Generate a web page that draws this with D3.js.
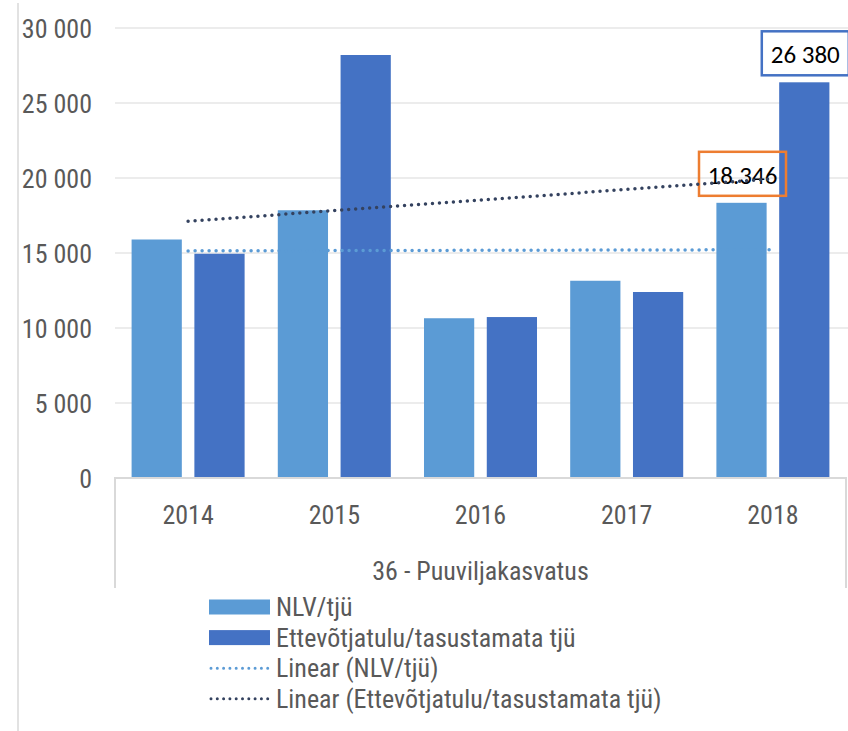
<!DOCTYPE html>
<html>
<head>
<meta charset="utf-8">
<script src="https://cdn.jsdelivr.net/npm/d3@7"></script>
<style>
  html, body { margin: 0; padding: 0; background: #fff; }
  svg { display: block; }
</style>
</head>
<body>
<div id="chart"></div>
<script>
const years = ["2014", "2015", "2016", "2017", "2018"];
const nlvValues = [15900, 17850, 10650, 13150, 18346];
const incomeValues = [14950, 28200, 10730, 12400, 26380];
const yTicks = [0, 5000, 10000, 15000, 20000, 25000, 30000];
const groupName = "36 - Puuviljakasvatus";
const seriesNames = ["NLV/tjü", "Ettevõtjatulu/tasustamata tjü",
    "Linear (NLV/tjü)", "Linear (Ettevõtjatulu/tasustamata tjü)"];
// highlighted point labels: [series index, year index, text]
const callouts = [[0, 4, "18.346"], [1, 4, "26 380"]];

const W = 848, H = 731;
const plot = {left: 115, right: 846, top: 28, bottom: 478};
const colors = ["#5B9BD5", "#4472C4"];
const trendColors = ["#5B9BD5", "#34425F"];
const boxColors = ["#ED7D31", "#4472C4"];
const axisFont = "'Liberation Sans Narrow', 'Roboto Condensed', 'Arial Narrow', sans-serif";
const textGray = "#595959";

const svg = d3.select("#chart").append("svg")
    .attr("width", W)
    .attr("height", H);

const y = d3.scaleLinear()
    .domain([0, 30000])
    .range([plot.bottom, plot.top]);

const x = d3.scaleBand()
    .domain(years)
    .range([plot.left, plot.right])
    .paddingInner(0.227)
    .paddingOuter(0.1135);

const xSub = d3.scaleBand()
    .domain([0, 1])
    .range([0, x.bandwidth()])
    .paddingInner(0.2);

// thin frame line at far left
svg.append("line")
    .attr("x1", 18).attr("x2", 18)
    .attr("y1", 3).attr("y2", H)
    .attr("stroke", "#d9d9d9")
    .attr("stroke-width", 1.5);

// gridlines
svg.append("g")
    .selectAll("line")
    .data(yTicks.filter(d => d > 0))
    .join("line")
    .attr("x1", plot.left).attr("x2", W)
    .attr("y1", d => y(d)).attr("y2", d => y(d))
    .attr("stroke", "#ececec")
    .attr("stroke-width", 2);

// y axis labels
const yAxis = d3.axisLeft(y)
    .tickValues(yTicks)
    .tickSize(0)
    .tickPadding(0)
    .tickFormat(d => d3.format(",")(d).replace(/,/g, " "));

const yg = svg.append("g")
    .attr("transform", `translate(92,0)`)
    .call(yAxis);
yg.select(".domain").remove();
yg.selectAll("text")
    .attr("fill", textGray)
    .style("font-family", axisFont)
    .style("font-size", "26px")
    .attr("dy", "0.36em");

// bars
const series = [nlvValues, incomeValues];
series.forEach((vals, si) => {
    svg.append("g")
        .selectAll("rect")
        .data(vals)
        .join("rect")
        .attr("x", (d, i) => x(years[i]) + xSub(si))
        .attr("y", d => y(d))
        .attr("width", xSub.bandwidth())
        .attr("height", d => y(0) - y(d))
        .attr("fill", colors[si]);
});

// category box below axis
const boxBottom = 588;
svg.append("path")
    .attr("d", `M${plot.left},${boxBottom} L${plot.left},${plot.bottom} L${plot.right},${plot.bottom} L${plot.right},${boxBottom}`)
    .attr("fill", "none")
    .attr("stroke", "#d9d9d9")
    .attr("stroke-width", 2);

const xAxis = d3.axisBottom(x).tickSize(0).tickPadding(0);
const xg = svg.append("g")
    .attr("transform", `translate(0,${plot.bottom})`)
    .call(xAxis);
xg.select(".domain").remove();
xg.selectAll("text")
    .attr("fill", textGray)
    .attr("y", 46)
    .attr("dy", 0)
    .style("font-family", axisFont)
    .style("font-size", "26px");

svg.append("text")
    .attr("x", (plot.left + plot.right) / 2)
    .attr("y", 580)
    .attr("text-anchor", "middle")
    .attr("fill", textGray)
    .style("font-family", axisFont)
    .style("font-size", "26px")
    .text(groupName);

// callout labels
callouts.forEach(([si, yi, label]) => {
    const cx = x(years[yi]) + xSub(si) + xSub.bandwidth() / 2;
    const bw = 87, bh = 44;
    const by = y(series[si][yi]) - 7 - bh;
    const g = svg.append("g");
    g.append("rect")
        .attr("x", cx - bw / 2 + 1)
        .attr("y", by)
        .attr("width", bw)
        .attr("height", bh)
        .attr("fill", "none")
        .attr("stroke", boxColors[si])
        .attr("stroke-width", 2.5);
    g.append("text")
        .attr("x", cx + 1)
        .attr("y", by + 32)
        .attr("text-anchor", "middle")
        .attr("fill", "#000")
        .style("font-family", "Carlito, 'Liberation Sans', sans-serif")
        .style("font-size", "25px")
        .text(label);
});

// linear trend lines (least squares over the series)
function trend(vals) {
    const n = vals.length;
    const xs = d3.range(1, n + 1);
    const mx = d3.mean(xs), my = d3.mean(vals);
    const slope = d3.sum(xs, (xi, i) => (xi - mx) * (vals[i] - my)) / d3.sum(xs, xi => (xi - mx) ** 2);
    return xs.map(xi => my + slope * (xi - mx));
}

const line = d3.line()
    .x((d, i) => x(years[i]) + x.bandwidth() / 2)
    .y(d => y(d));

series.forEach((vals, si) => {
    svg.append("path")
        .datum(trend(vals))
        .attr("d", line)
        .attr("fill", "none")
        .attr("stroke", trendColors[si])
        .attr("stroke-width", 3.5)
        .attr("stroke-linecap", "round")
        .attr("stroke-dasharray", "0 7");
});

// legend
const legend = svg.append("g")
    .attr("transform", "translate(209,607)");
const legendStep = 30.6;
seriesNames.forEach((name, i) => {
    const row = legend.append("g")
        .attr("transform", `translate(0,${i * legendStep})`);
    if (i < 2) {
        row.append("rect")
            .attr("x", 0).attr("y", -7.5)
            .attr("width", 61).attr("height", 15)
            .attr("fill", colors[i]);
    } else {
        row.append("line")
            .attr("x1", 2).attr("x2", 59)
            .attr("y1", 0).attr("y2", 0)
            .attr("stroke", trendColors[i - 2])
            .attr("stroke-width", 3)
            .attr("stroke-linecap", "round")
            .attr("stroke-dasharray", "0 6.3");
    }
    row.append("text")
        .attr("x", 67)
        .attr("y", 9)
        .attr("fill", textGray)
        .style("font-family", axisFont)
        .style("font-size", "26px")
        .text(name);
});
</script>
</body>
</html>
